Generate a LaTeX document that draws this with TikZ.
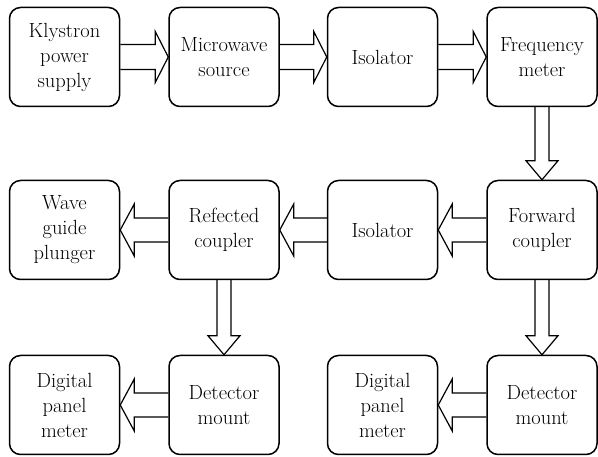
\documentclass[tikz,border=0pt]{standalone}
\usetikzlibrary{calc}

% hollow block arrows between two named boxes
\newcommand\arrowRight[2]{%
  \draw[hollow] ($(#1.east)+(0,-12.5)$) -- ($(#2.west)+(-13,-12.5)$) -- ++(0,-13)
    -- (#2.west) -- ++(-13,25.5) -- ++(0,-13) -- ($(#1.east)+(0,12.5)$);}
\newcommand\arrowLeft[2]{%
  \draw[hollow] ($(#1.west)+(0,-12)$) -- ($(#2.east)+(14,-12)$) -- ++(0,-14)
    -- (#2.east) -- ++(14,26) -- ++(0,-14) -- ($(#1.west)+(0,12)$);}
\newcommand\arrowDown[2]{%
  \draw[hollow] ($(#1.south)+(-7,0)$) -- ($(#2.north)+(-7,-19)$) -- ++(-9,0)
    -- (#2.north) -- ++(16,-19) -- ++(-9,0) -- ($(#1.south)+(7,0)$);}

\begin{document}
\begin{tikzpicture}[x=1pt,y=-1pt,
  blk/.style={draw, line width=1.5pt, rounded corners=11pt,
    minimum width=110pt, minimum height=99pt, inner sep=0pt,
    align=center, text=black,
    font=\fontsize{20.5}{25}\selectfont},
  hollow/.style={draw, line width=1.2pt, line join=miter}]

\useasboundingbox (0,0) rectangle (598,457);

% top row
\node[blk] (kps) at (64.5,57)  {Klystron\\power\\supply};
\node[blk] (mws) at (224,57)   {Microwave\\source};
\node[blk] (iso1) at (382.5,57) {Isolator};
\node[blk] (frq) at (542,57)   {Frequency\\meter};

% middle row
\node[blk] (wgp) at (64.5,230)  {Wave\\guide\\plunger};
\node[blk] (ref) at (224,230)   {Refected\\coupler};
\node[blk] (iso2) at (382.5,230) {Isolator};
\node[blk] (fwd) at (542,230)   {Forward\\coupler};

% bottom row
\node[blk] (dpm1) at (64.5,405)  {Digital\\panel\\meter};
\node[blk] (det1) at (224,405)   {Detector\\mount};
\node[blk] (dpm2) at (382.5,405) {Digital\\panel\\meter};
\node[blk] (det2) at (542,405)   {Detector\\mount};

% connections
\arrowRight{kps}{mws}
\arrowRight{mws}{iso1}
\arrowRight{iso1}{frq}
\arrowDown{frq}{fwd}
\arrowLeft{fwd}{iso2}
\arrowLeft{iso2}{ref}
\arrowLeft{ref}{wgp}
\arrowDown{ref}{det1}
\arrowDown{fwd}{det2}
\arrowLeft{det1}{dpm1}
\arrowLeft{det2}{dpm2}
\end{tikzpicture}
\end{document}
